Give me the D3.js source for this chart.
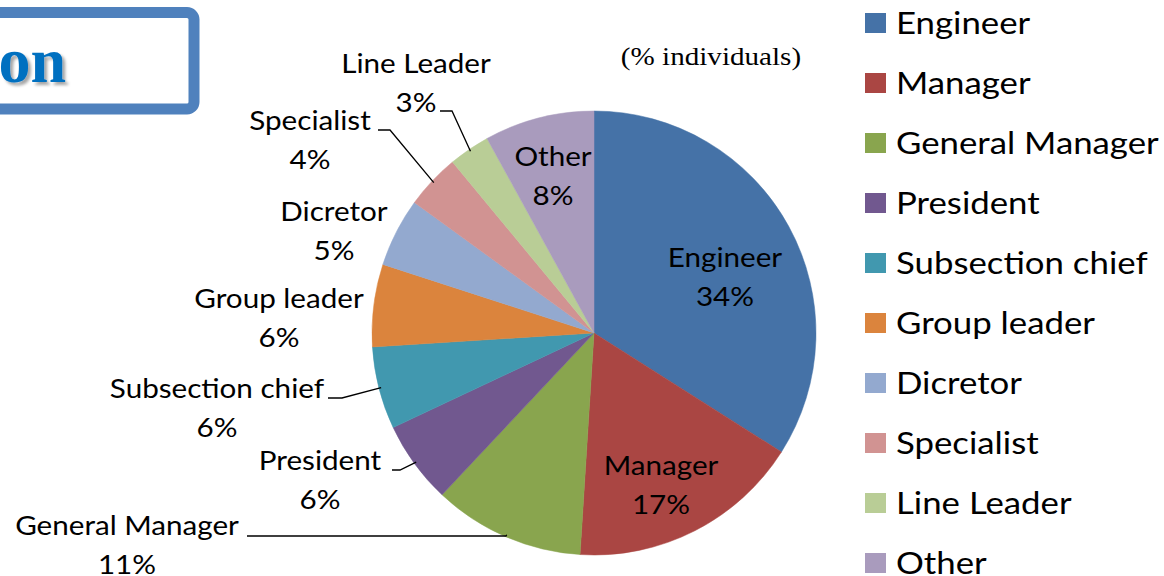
<!DOCTYPE html>
<html><head><meta charset="utf-8">
<script src="https://cdn.jsdelivr.net/npm/d3@7/dist/d3.min.js"></script>
<style>html,body{margin:0;padding:0;background:#fff;overflow:hidden}</style>
</head><body>
<svg id="chart" width="1164" height="576"></svg>
<script>
const categories = ["Engineer","Manager","General Manager","President","Subsection chief","Group leader","Dicretor","Specialist","Line Leader","Other"];
const values = [34,17,11,6,6,6,5,4,3,8];
const colors = ["#4572A7","#AA4643","#89A54E","#71588F","#4198AF","#DB843D","#93A9CF","#D19392","#B9CD96","#A99BBD"];
const subtitle = "(% individuals)";
const titleFragment = "on";

// label layout (text centre x, first baseline y, optional leader elbow/end)
const labelLayout = [
  {x:725, y:267},
  {x:661, y:475},
  {x:127, y:535, elbow:[506,536], end:[247,536]},
  {x:320, y:470, elbow:[400,470], end:[392,470]},
  {x:217, y:398, elbow:[342,398], end:[328,398]},
  {x:279, y:308},
  {x:334, y:221},
  {x:310, y:130, elbow:[390,130], end:[378,130]},
  {x:416, y:73,  elbow:[452,111], end:[440,111]},
  {x:553, y:166}
];

const svg = d3.select("#chart");
const cx = 594, cy = 333, R = 222;
const font = "Lato, 'Open Sans', sans-serif";

function sText(parent, x, y, sx, txt, size, anchor, family){
  return parent.append("text")
    .attr("transform",`translate(${x},${y}) scale(${sx},1)`)
    .attr("font-family",family||font).attr("font-size",size).attr("fill","#000")
    .attr("text-anchor",anchor||"middle").text(txt);
}

// title box
const defs = svg.append("defs");
const f = defs.append("filter").attr("id","sh").attr("x","-20%").attr("y","-20%").attr("width","150%").attr("height","150%");
f.append("feDropShadow").attr("dx",3).attr("dy",3).attr("stdDeviation",1.5).attr("flood-color","#000").attr("flood-opacity",0.35);
svg.append("rect").attr("x",-20).attr("y",12.5).attr("width",214).attr("height",96.5)
  .attr("rx",7).attr("fill","#fff").attr("stroke","#4F81BD").attr("stroke-width",11);
svg.append("text").attr("x",66).attr("y",82).attr("text-anchor","end")
  .attr("font-family","'Liberation Serif', 'DejaVu Serif', serif").attr("font-weight","bold")
  .attr("font-size",64).attr("fill","#0070C0").attr("filter","url(#sh)").text(titleFragment);

// subtitle
sText(svg, 711, 65, 1.12, subtitle, 26, "middle", "'Liberation Serif', serif");

// pie
const data = categories.map((c,i)=>({name:c, value:values[i], color:colors[i], lay:labelLayout[i]}));
const pie = d3.pie().value(d=>d.value).sort(null).startAngle(0).endAngle(2*Math.PI);
const arcs = pie(data);
const arc = d3.arc().innerRadius(0).outerRadius(R);
const g = svg.append("g").attr("transform",`translate(${cx},${cy})`);
g.selectAll("path").data(arcs).join("path").attr("d",arc).attr("fill",d=>d.data.color)
  .attr("stroke",d=>d.data.color).attr("stroke-width",0.5);

// leader lines
const total = d3.sum(values);
arcs.forEach(a=>{
  const L = a.data.lay;
  if(!L.elbow) return;
  const mid = (a.startAngle+a.endAngle)/2;
  const px = cx + Math.sin(mid)*R*0.99, py = cy - Math.cos(mid)*R*0.99;
  svg.append("polyline").attr("points",`${px},${py} ${L.elbow[0]},${L.elbow[1]} ${L.end[0]},${L.end[1]}`)
    .attr("fill","none").attr("stroke","#000").attr("stroke-width",1.3);
});

// labels
arcs.forEach(a=>{
  const L = a.data.lay;
  const pct = Math.round(a.data.value/total*100)+"%";
  sText(svg, L.x, L.y, 1.14, a.data.name, 26);
  sText(svg, L.x, L.y+39, 1.14, pct, 26);
});

// legend
const lg = svg.append("g");
data.forEach((d,i)=>{
  const y = 23 + i*60;
  lg.append("rect").attr("x",865).attr("y",y-10).attr("width",21).attr("height",20).attr("fill",d.color);
  sText(lg, 896, y+10.5, 1.16, d.name, 30, "start");
});
</script>
</body></html>
